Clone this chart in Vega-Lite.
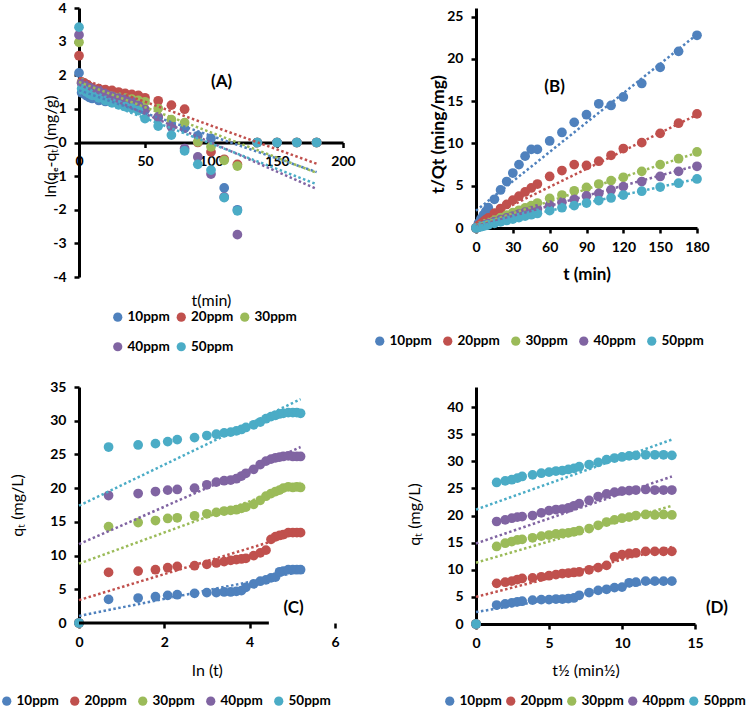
{
"$schema":"https://vega.github.io/schema/vega-lite/v6.json",
"padding":{"top":1,"left":0,"right":0,"bottom":0},
"autosize":{"type":"pad"},
"background":"white",
"columns":2,
"bounds":"flush",
"spacing":{"row":110,"column":133},
"resolve":{"scale":{"x":"independent","y":"independent","color":"independent","stroke":"independent"},"legend":{"color":"independent"}},
"config":{
 "font":"Lato",
 "view":{"stroke":null},
 "axis":{"domainColor":"#000","domainWidth":3,"tickColor":"#000","tickWidth":2.5,"tickSize":5,"grid":false,"labelColor":"#000","labelFont":"Lato","labelFontSize":14,"labelFontWeight":"bold","labelFlush":false,"labelOverlap":false,"titleColor":"#000","titleFont":"Lato","titleFontSize":16,"titleFontWeight":"normal"},
 "axisX":{"labelPadding":7},
 "axisY":{"labelPadding":8},
 "legend":{"orient":"none","direction":"horizontal","symbolType":"circle","symbolSize":85,"symbolStrokeWidth":0,"labelFont":"Lato","labelFontSize":13.5,"labelFontWeight":"bold","labelColor":"#000","labelOffset":3,"columnPadding":8,"rowPadding":15,"padding":0}
},
"datasets":{
"A":[
{"s":"10ppm","t":0,"v":2.07},{"s":"10ppm","t":2,"v":1.48},{"s":"10ppm","t":4,"v":1.44},{"s":"10ppm","t":6,"v":1.39},{"s":"10ppm","t":8,"v":1.34},{"s":"10ppm","t":10,"v":1.31},{"s":"10ppm","t":15,"v":1.25},{"s":"10ppm","t":20,"v":1.22},{"s":"10ppm","t":25,"v":1.2},{"s":"10ppm","t":30,"v":1.19},{"s":"10ppm","t":35,"v":1.17},{"s":"10ppm","t":40,"v":1.16},{"s":"10ppm","t":45,"v":1.13},{"s":"10ppm","t":50,"v":0.96},{"s":"10ppm","t":60,"v":0.74},{"s":"10ppm","t":70,"v":0.5},{"s":"10ppm","t":80,"v":0.42},{"s":"10ppm","t":90,"v":0.2},{"s":"10ppm","t":100,"v":0.12},{"s":"10ppm","t":110,"v":-1.35},{"s":"10ppm","t":120,"v":-2.0},{"s":"10ppm","t":135,"v":0},{"s":"10ppm","t":150,"v":0},{"s":"10ppm","t":165,"v":0},{"s":"10ppm","t":180,"v":0},
{"s":"20ppm","t":0,"v":2.58},{"s":"20ppm","t":2,"v":1.8},{"s":"20ppm","t":4,"v":1.77},{"s":"20ppm","t":6,"v":1.72},{"s":"20ppm","t":8,"v":1.66},{"s":"20ppm","t":10,"v":1.62},{"s":"20ppm","t":15,"v":1.6},{"s":"20ppm","t":20,"v":1.57},{"s":"20ppm","t":25,"v":1.55},{"s":"20ppm","t":30,"v":1.5},{"s":"20ppm","t":35,"v":1.46},{"s":"20ppm","t":40,"v":1.43},{"s":"20ppm","t":45,"v":1.4},{"s":"20ppm","t":50,"v":1.33},{"s":"20ppm","t":60,"v":1.24},{"s":"20ppm","t":70,"v":1.11},{"s":"20ppm","t":80,"v":0.99},{"s":"20ppm","t":90,"v":0.0},{"s":"20ppm","t":100,"v":-0.28},{"s":"20ppm","t":110,"v":-0.5},{"s":"20ppm","t":120,"v":-0.65},{"s":"20ppm","t":135,"v":0},{"s":"20ppm","t":150,"v":0},{"s":"20ppm","t":165,"v":0},{"s":"20ppm","t":180,"v":0},
{"s":"30ppm","t":0,"v":2.98},{"s":"30ppm","t":2,"v":1.77},{"s":"30ppm","t":4,"v":1.68},{"s":"30ppm","t":6,"v":1.62},{"s":"30ppm","t":8,"v":1.56},{"s":"30ppm","t":10,"v":1.53},{"s":"30ppm","t":15,"v":1.47},{"s":"30ppm","t":20,"v":1.42},{"s":"30ppm","t":25,"v":1.38},{"s":"30ppm","t":30,"v":1.35},{"s":"30ppm","t":35,"v":1.32},{"s":"30ppm","t":40,"v":1.29},{"s":"30ppm","t":45,"v":1.25},{"s":"30ppm","t":50,"v":1.21},{"s":"30ppm","t":60,"v":1.01},{"s":"30ppm","t":70,"v":0.68},{"s":"30ppm","t":80,"v":0.59},{"s":"30ppm","t":90,"v":0.02},{"s":"30ppm","t":100,"v":-0.13},{"s":"30ppm","t":110,"v":-0.53},{"s":"30ppm","t":120,"v":-0.7},{"s":"30ppm","t":135,"v":0},{"s":"30ppm","t":150,"v":0},{"s":"30ppm","t":165,"v":0},{"s":"30ppm","t":180,"v":0},
{"s":"40ppm","t":0,"v":3.2},{"s":"40ppm","t":2,"v":1.76},{"s":"40ppm","t":4,"v":1.72},{"s":"40ppm","t":6,"v":1.67},{"s":"40ppm","t":8,"v":1.63},{"s":"40ppm","t":10,"v":1.6},{"s":"40ppm","t":15,"v":1.55},{"s":"40ppm","t":20,"v":1.46},{"s":"40ppm","t":25,"v":1.38},{"s":"40ppm","t":30,"v":1.32},{"s":"40ppm","t":35,"v":1.28},{"s":"40ppm","t":40,"v":1.22},{"s":"40ppm","t":45,"v":1.1},{"s":"40ppm","t":50,"v":0.98},{"s":"40ppm","t":60,"v":0.76},{"s":"40ppm","t":70,"v":0.47},{"s":"40ppm","t":80,"v":-0.18},{"s":"40ppm","t":90,"v":-0.43},{"s":"40ppm","t":100,"v":-0.94},{"s":"40ppm","t":110,"v":-1.62},{"s":"40ppm","t":120,"v":-2.74},{"s":"40ppm","t":135,"v":0},{"s":"40ppm","t":150,"v":0},{"s":"40ppm","t":165,"v":0},{"s":"40ppm","t":180,"v":0},
{"s":"50ppm","t":0,"v":3.43},{"s":"50ppm","t":2,"v":1.6},{"s":"50ppm","t":4,"v":1.55},{"s":"50ppm","t":6,"v":1.5},{"s":"50ppm","t":8,"v":1.45},{"s":"50ppm","t":10,"v":1.4},{"s":"50ppm","t":15,"v":1.33},{"s":"50ppm","t":20,"v":1.25},{"s":"50ppm","t":25,"v":1.18},{"s":"50ppm","t":30,"v":1.12},{"s":"50ppm","t":35,"v":1.07},{"s":"50ppm","t":40,"v":1.02},{"s":"50ppm","t":45,"v":0.95},{"s":"50ppm","t":50,"v":0.71},{"s":"50ppm","t":60,"v":0.49},{"s":"50ppm","t":70,"v":0.22},{"s":"50ppm","t":80,"v":-0.25},{"s":"50ppm","t":90,"v":-0.65},{"s":"50ppm","t":100,"v":-0.82},{"s":"50ppm","t":110,"v":-1.64},{"s":"50ppm","t":120,"v":-2.03},{"s":"50ppm","t":135,"v":0},{"s":"50ppm","t":150,"v":0},{"s":"50ppm","t":165,"v":0},{"s":"50ppm","t":180,"v":0}
],
"trA":[
{"s":"10ppm","t":0,"v":1.55},{"s":"10ppm","t":180,"v":-0.88},
{"s":"20ppm","t":0,"v":1.92},{"s":"20ppm","t":180,"v":-0.63},
{"s":"30ppm","t":0,"v":1.8},{"s":"30ppm","t":180,"v":-0.9},
{"s":"40ppm","t":0,"v":1.72},{"s":"40ppm","t":180,"v":-1.38},
{"s":"50ppm","t":0,"v":1.48},{"s":"50ppm","t":180,"v":-1.24}
],
"B":[
{"s":"10ppm","t":0,"v":0},{"s":"10ppm","t":2,"v":0.57},{"s":"10ppm","t":4,"v":1.08},{"s":"10ppm","t":6,"v":1.54},{"s":"10ppm","t":8,"v":1.95},{"s":"10ppm","t":10,"v":2.4},{"s":"10ppm","t":15,"v":3.4},{"s":"10ppm","t":20,"v":4.5},{"s":"10ppm","t":25,"v":5.5},{"s":"10ppm","t":30,"v":6.5},{"s":"10ppm","t":35,"v":7.5},{"s":"10ppm","t":40,"v":8.5},{"s":"10ppm","t":45,"v":9.3},{"s":"10ppm","t":50,"v":9.3},{"s":"10ppm","t":60,"v":10.3},{"s":"10ppm","t":70,"v":11.3},{"s":"10ppm","t":80,"v":12.5},{"s":"10ppm","t":90,"v":13.4},{"s":"10ppm","t":100,"v":14.7},{"s":"10ppm","t":110,"v":14.5},{"s":"10ppm","t":120,"v":15.5},{"s":"10ppm","t":135,"v":17.1},{"s":"10ppm","t":150,"v":19.0},{"s":"10ppm","t":165,"v":20.9},{"s":"10ppm","t":180,"v":22.8},
{"s":"20ppm","t":0,"v":0},{"s":"20ppm","t":2,"v":0.27},{"s":"20ppm","t":4,"v":0.52},{"s":"20ppm","t":6,"v":0.76},{"s":"20ppm","t":8,"v":0.98},{"s":"20ppm","t":10,"v":1.19},{"s":"20ppm","t":15,"v":1.76},{"s":"20ppm","t":20,"v":2.3},{"s":"20ppm","t":25,"v":2.8},{"s":"20ppm","t":30,"v":3.3},{"s":"20ppm","t":35,"v":3.76},{"s":"20ppm","t":40,"v":4.26},{"s":"20ppm","t":45,"v":4.74},{"s":"20ppm","t":50,"v":5.2},{"s":"20ppm","t":60,"v":6.1},{"s":"20ppm","t":70,"v":6.8},{"s":"20ppm","t":80,"v":7.5},{"s":"20ppm","t":90,"v":7.4},{"s":"20ppm","t":100,"v":7.9},{"s":"20ppm","t":110,"v":8.6},{"s":"20ppm","t":120,"v":9.4},{"s":"20ppm","t":135,"v":10.1},{"s":"20ppm","t":150,"v":11.2},{"s":"20ppm","t":165,"v":12.4},{"s":"20ppm","t":180,"v":13.5},
{"s":"30ppm","t":0,"v":0},{"s":"30ppm","t":2,"v":0.14},{"s":"30ppm","t":4,"v":0.27},{"s":"30ppm","t":6,"v":0.39},{"s":"30ppm","t":8,"v":0.52},{"s":"30ppm","t":10,"v":0.64},{"s":"30ppm","t":15,"v":0.94},{"s":"30ppm","t":20,"v":1.23},{"s":"30ppm","t":25,"v":1.52},{"s":"30ppm","t":30,"v":1.81},{"s":"30ppm","t":35,"v":2.1},{"s":"30ppm","t":40,"v":2.38},{"s":"30ppm","t":45,"v":2.65},{"s":"30ppm","t":50,"v":2.95},{"s":"30ppm","t":60,"v":3.5},{"s":"30ppm","t":70,"v":3.9},{"s":"30ppm","t":80,"v":4.4},{"s":"30ppm","t":90,"v":4.8},{"s":"30ppm","t":100,"v":5.2},{"s":"30ppm","t":110,"v":5.6},{"s":"30ppm","t":120,"v":6.0},{"s":"30ppm","t":135,"v":6.7},{"s":"30ppm","t":150,"v":7.5},{"s":"30ppm","t":165,"v":8.2},{"s":"30ppm","t":180,"v":9.0},
{"s":"40ppm","t":0,"v":0},{"s":"40ppm","t":2,"v":0.11},{"s":"40ppm","t":4,"v":0.21},{"s":"40ppm","t":6,"v":0.31},{"s":"40ppm","t":8,"v":0.41},{"s":"40ppm","t":10,"v":0.51},{"s":"40ppm","t":15,"v":0.75},{"s":"40ppm","t":20,"v":0.98},{"s":"40ppm","t":25,"v":1.2},{"s":"40ppm","t":30,"v":1.42},{"s":"40ppm","t":35,"v":1.65},{"s":"40ppm","t":40,"v":1.87},{"s":"40ppm","t":45,"v":2.06},{"s":"40ppm","t":50,"v":2.25},{"s":"40ppm","t":60,"v":2.7},{"s":"40ppm","t":70,"v":3.05},{"s":"40ppm","t":80,"v":3.4},{"s":"40ppm","t":90,"v":3.8},{"s":"40ppm","t":100,"v":4.1},{"s":"40ppm","t":110,"v":4.5},{"s":"40ppm","t":120,"v":4.9},{"s":"40ppm","t":135,"v":5.5},{"s":"40ppm","t":150,"v":6.1},{"s":"40ppm","t":165,"v":6.7},{"s":"40ppm","t":180,"v":7.3},
{"s":"50ppm","t":0,"v":0},{"s":"50ppm","t":2,"v":0.08},{"s":"50ppm","t":4,"v":0.15},{"s":"50ppm","t":6,"v":0.23},{"s":"50ppm","t":8,"v":0.3},{"s":"50ppm","t":10,"v":0.37},{"s":"50ppm","t":15,"v":0.55},{"s":"50ppm","t":20,"v":0.72},{"s":"50ppm","t":25,"v":0.89},{"s":"50ppm","t":30,"v":1.06},{"s":"50ppm","t":35,"v":1.24},{"s":"50ppm","t":40,"v":1.4},{"s":"50ppm","t":45,"v":1.57},{"s":"50ppm","t":50,"v":1.72},{"s":"50ppm","t":60,"v":2.05},{"s":"50ppm","t":70,"v":2.4},{"s":"50ppm","t":80,"v":2.65},{"s":"50ppm","t":90,"v":2.95},{"s":"50ppm","t":100,"v":3.25},{"s":"50ppm","t":110,"v":3.55},{"s":"50ppm","t":120,"v":3.9},{"s":"50ppm","t":135,"v":4.35},{"s":"50ppm","t":150,"v":4.85},{"s":"50ppm","t":165,"v":5.3},{"s":"50ppm","t":180,"v":5.8}
],
"trB":[
{"s":"10ppm","t":0,"v":2.05},{"s":"10ppm","t":180,"v":22.9},
{"s":"20ppm","t":0,"v":0.6},{"s":"20ppm","t":180,"v":13.4},
{"s":"30ppm","t":0,"v":0.3},{"s":"30ppm","t":180,"v":8.9},
{"s":"40ppm","t":0,"v":0.24},{"s":"40ppm","t":180,"v":7.4},
{"s":"50ppm","t":0,"v":0.16},{"s":"50ppm","t":180,"v":5.8}
],
"CD":[
{"s":"10ppm","t":0,"l":0,"r":0,"q":0},{"s":"10ppm","t":2,"l":0.693,"r":1.414,"q":3.5},{"s":"10ppm","t":4,"l":1.386,"r":2,"q":3.7},{"s":"10ppm","t":6,"l":1.792,"r":2.449,"q":3.9},{"s":"10ppm","t":8,"l":2.079,"r":2.828,"q":4.1},{"s":"10ppm","t":10,"l":2.303,"r":3.162,"q":4.2},{"s":"10ppm","t":15,"l":2.708,"r":3.873,"q":4.4},{"s":"10ppm","t":20,"l":2.996,"r":4.472,"q":4.5},{"s":"10ppm","t":25,"l":3.219,"r":5,"q":4.5},{"s":"10ppm","t":30,"l":3.401,"r":5.477,"q":4.6},{"s":"10ppm","t":35,"l":3.555,"r":5.916,"q":4.6},{"s":"10ppm","t":40,"l":3.689,"r":6.325,"q":4.7},{"s":"10ppm","t":45,"l":3.807,"r":6.708,"q":4.8},{"s":"10ppm","t":50,"l":3.912,"r":7.071,"q":5.3},{"s":"10ppm","t":60,"l":4.094,"r":7.746,"q":5.8},{"s":"10ppm","t":70,"l":4.248,"r":8.367,"q":6.2},{"s":"10ppm","t":80,"l":4.382,"r":8.944,"q":6.4},{"s":"10ppm","t":90,"l":4.5,"r":9.487,"q":6.7},{"s":"10ppm","t":100,"l":4.605,"r":10,"q":6.8},{"s":"10ppm","t":110,"l":4.7,"r":10.488,"q":7.6},{"s":"10ppm","t":120,"l":4.787,"r":10.954,"q":7.7},{"s":"10ppm","t":135,"l":4.905,"r":11.619,"q":7.9},{"s":"10ppm","t":150,"l":5.011,"r":12.247,"q":7.9},{"s":"10ppm","t":165,"l":5.106,"r":12.845,"q":7.9},{"s":"10ppm","t":180,"l":5.193,"r":13.416,"q":7.9},
{"s":"20ppm","t":0,"l":0,"r":0,"q":0},{"s":"20ppm","t":2,"l":0.693,"r":1.414,"q":7.5},{"s":"20ppm","t":4,"l":1.386,"r":2,"q":7.7},{"s":"20ppm","t":6,"l":1.792,"r":2.449,"q":7.9},{"s":"20ppm","t":8,"l":2.079,"r":2.828,"q":8.2},{"s":"20ppm","t":10,"l":2.303,"r":3.162,"q":8.4},{"s":"20ppm","t":15,"l":2.708,"r":3.873,"q":8.5},{"s":"20ppm","t":20,"l":2.996,"r":4.472,"q":8.7},{"s":"20ppm","t":25,"l":3.219,"r":5,"q":8.9},{"s":"20ppm","t":30,"l":3.401,"r":5.477,"q":9.1},{"s":"20ppm","t":35,"l":3.555,"r":5.916,"q":9.3},{"s":"20ppm","t":40,"l":3.689,"r":6.325,"q":9.4},{"s":"20ppm","t":45,"l":3.807,"r":6.708,"q":9.5},{"s":"20ppm","t":50,"l":3.912,"r":7.071,"q":9.6},{"s":"20ppm","t":60,"l":4.094,"r":7.746,"q":10.0},{"s":"20ppm","t":70,"l":4.248,"r":8.367,"q":10.4},{"s":"20ppm","t":80,"l":4.382,"r":8.944,"q":10.8},{"s":"20ppm","t":90,"l":4.5,"r":9.487,"q":12.4},{"s":"20ppm","t":100,"l":4.605,"r":10,"q":12.8},{"s":"20ppm","t":110,"l":4.7,"r":10.488,"q":13.0},{"s":"20ppm","t":120,"l":4.787,"r":10.954,"q":13.1},{"s":"20ppm","t":135,"l":4.905,"r":11.619,"q":13.4},{"s":"20ppm","t":150,"l":5.011,"r":12.247,"q":13.4},{"s":"20ppm","t":165,"l":5.106,"r":12.845,"q":13.4},{"s":"20ppm","t":180,"l":5.193,"r":13.416,"q":13.4},
{"s":"30ppm","t":0,"l":0,"r":0,"q":0},{"s":"30ppm","t":2,"l":0.693,"r":1.414,"q":14.3},{"s":"30ppm","t":4,"l":1.386,"r":2,"q":14.9},{"s":"30ppm","t":6,"l":1.792,"r":2.449,"q":15.2},{"s":"30ppm","t":8,"l":2.079,"r":2.828,"q":15.5},{"s":"30ppm","t":10,"l":2.303,"r":3.162,"q":15.6},{"s":"30ppm","t":15,"l":2.708,"r":3.873,"q":15.9},{"s":"30ppm","t":20,"l":2.996,"r":4.472,"q":16.2},{"s":"30ppm","t":25,"l":3.219,"r":5,"q":16.4},{"s":"30ppm","t":30,"l":3.401,"r":5.477,"q":16.6},{"s":"30ppm","t":35,"l":3.555,"r":5.916,"q":16.7},{"s":"30ppm","t":40,"l":3.689,"r":6.325,"q":16.8},{"s":"30ppm","t":45,"l":3.807,"r":6.708,"q":17.0},{"s":"30ppm","t":50,"l":3.912,"r":7.071,"q":17.2},{"s":"30ppm","t":60,"l":4.094,"r":7.746,"q":17.6},{"s":"30ppm","t":70,"l":4.248,"r":8.367,"q":18.2},{"s":"30ppm","t":80,"l":4.382,"r":8.944,"q":18.8},{"s":"30ppm","t":90,"l":4.5,"r":9.487,"q":19.2},{"s":"30ppm","t":100,"l":4.605,"r":10,"q":19.5},{"s":"30ppm","t":110,"l":4.7,"r":10.488,"q":19.7},{"s":"30ppm","t":120,"l":4.787,"r":10.954,"q":20.0},{"s":"30ppm","t":135,"l":4.905,"r":11.619,"q":20.2},{"s":"30ppm","t":150,"l":5.011,"r":12.247,"q":20.1},{"s":"30ppm","t":165,"l":5.106,"r":12.845,"q":20.2},{"s":"30ppm","t":180,"l":5.193,"r":13.416,"q":20.1},
{"s":"40ppm","t":0,"l":0,"r":0,"q":0},{"s":"40ppm","t":2,"l":0.693,"r":1.414,"q":18.9},{"s":"40ppm","t":4,"l":1.386,"r":2,"q":19.2},{"s":"40ppm","t":6,"l":1.792,"r":2.449,"q":19.5},{"s":"40ppm","t":8,"l":2.079,"r":2.828,"q":19.7},{"s":"40ppm","t":10,"l":2.303,"r":3.162,"q":19.8},{"s":"40ppm","t":15,"l":2.708,"r":3.873,"q":20.0},{"s":"40ppm","t":20,"l":2.996,"r":4.472,"q":20.5},{"s":"40ppm","t":25,"l":3.219,"r":5,"q":20.9},{"s":"40ppm","t":30,"l":3.401,"r":5.477,"q":21.1},{"s":"40ppm","t":35,"l":3.555,"r":5.916,"q":21.2},{"s":"40ppm","t":40,"l":3.689,"r":6.325,"q":21.4},{"s":"40ppm","t":45,"l":3.807,"r":6.708,"q":21.8},{"s":"40ppm","t":50,"l":3.912,"r":7.071,"q":22.2},{"s":"40ppm","t":60,"l":4.094,"r":7.746,"q":22.8},{"s":"40ppm","t":70,"l":4.248,"r":8.367,"q":23.5},{"s":"40ppm","t":80,"l":4.382,"r":8.944,"q":24.0},{"s":"40ppm","t":90,"l":4.5,"r":9.487,"q":24.3},{"s":"40ppm","t":100,"l":4.605,"r":10,"q":24.5},{"s":"40ppm","t":110,"l":4.7,"r":10.488,"q":24.6},{"s":"40ppm","t":120,"l":4.787,"r":10.954,"q":24.7},{"s":"40ppm","t":135,"l":4.905,"r":11.619,"q":24.8},{"s":"40ppm","t":150,"l":5.011,"r":12.247,"q":24.7},{"s":"40ppm","t":165,"l":5.106,"r":12.845,"q":24.7},{"s":"40ppm","t":180,"l":5.193,"r":13.416,"q":24.7},
{"s":"50ppm","t":0,"l":0,"r":0,"q":0},{"s":"50ppm","t":2,"l":0.693,"r":1.414,"q":26.1},{"s":"50ppm","t":4,"l":1.386,"r":2,"q":26.4},{"s":"50ppm","t":6,"l":1.792,"r":2.449,"q":26.6},{"s":"50ppm","t":8,"l":2.079,"r":2.828,"q":26.9},{"s":"50ppm","t":10,"l":2.303,"r":3.162,"q":27.2},{"s":"50ppm","t":15,"l":2.708,"r":3.873,"q":27.5},{"s":"50ppm","t":20,"l":2.996,"r":4.472,"q":27.8},{"s":"50ppm","t":25,"l":3.219,"r":5,"q":28.0},{"s":"50ppm","t":30,"l":3.401,"r":5.477,"q":28.2},{"s":"50ppm","t":35,"l":3.555,"r":5.916,"q":28.3},{"s":"50ppm","t":40,"l":3.689,"r":6.325,"q":28.5},{"s":"50ppm","t":45,"l":3.807,"r":6.708,"q":28.7},{"s":"50ppm","t":50,"l":3.912,"r":7.071,"q":29.0},{"s":"50ppm","t":60,"l":4.094,"r":7.746,"q":29.4},{"s":"50ppm","t":70,"l":4.248,"r":8.367,"q":29.8},{"s":"50ppm","t":80,"l":4.382,"r":8.944,"q":30.3},{"s":"50ppm","t":90,"l":4.5,"r":9.487,"q":30.6},{"s":"50ppm","t":100,"l":4.605,"r":10,"q":30.8},{"s":"50ppm","t":110,"l":4.7,"r":10.488,"q":31.0},{"s":"50ppm","t":120,"l":4.787,"r":10.954,"q":31.1},{"s":"50ppm","t":135,"l":4.905,"r":11.619,"q":31.2},{"s":"50ppm","t":150,"l":5.011,"r":12.247,"q":31.2},{"s":"50ppm","t":165,"l":5.106,"r":12.845,"q":31.2},{"s":"50ppm","t":180,"l":5.193,"r":13.416,"q":31.1}
],
"trC":[
{"s":"10ppm","l":0,"q":1.05},{"s":"10ppm","l":5.193,"q":7.6},
{"s":"20ppm","l":0,"q":3.4},{"s":"20ppm","l":5.193,"q":13.4},
{"s":"30ppm","l":0,"q":8.8},{"s":"30ppm","l":5.193,"q":20.8},
{"s":"40ppm","l":0,"q":11.7},{"s":"40ppm","l":5.193,"q":26.1},
{"s":"50ppm","l":0,"q":17.4},{"s":"50ppm","l":5.193,"q":33.2}
],
"trD":[
{"s":"10ppm","r":0,"q":2.2},{"s":"10ppm","r":13.416,"q":8.3},
{"s":"20ppm","r":0,"q":5.0},{"s":"20ppm","r":13.416,"q":14.2},
{"s":"30ppm","r":0,"q":11.3},{"s":"30ppm","r":13.416,"q":21.8},
{"s":"40ppm","r":0,"q":14.85},{"s":"40ppm","r":13.416,"q":27.2},
{"s":"50ppm","r":0,"q":21.1},{"s":"50ppm","r":13.416,"q":34.0}
]
},
"concat":[
{"width":264,"height":269,"layer":[
 {"data":{"name":"A"},"mark":{"type":"point","shape":"circle","filled":true,"size":95,"opacity":1},
  "encoding":{
   "x":{"field":"t","type":"quantitative","scale":{"domain":[0,200],"nice":false},"axis":{"values":[0,50,100,150,200],"tickCount":30,"format":"d","labelOverlap":false,"title":"t(min)","offset":-134.5,"titleY":158,"titleBaseline":"middle"}},
   "y":{"field":"v","type":"quantitative","scale":{"domain":[-4,4],"nice":false},"axis":{"values":[-4,-3,-2,-1,0,1,2,3,4],"tickCount":30,"labelOverlap":false,"title":"ln(qₑ-qₜ) (mg/g)","labelExpr":"datum.value < 0 ? '-' + abs(datum.value) : '' + datum.value","titleX":-29,"titleY":138,"titleBaseline":"middle"}},
   "color":{"field":"s","type":"nominal","scale":{"domain":["10ppm","20ppm","30ppm","40ppm","50ppm"],"range":["#4F81BD","#C0504D","#9BBB59","#8064A2","#4BACC6"]},"legend":{"title":null,"orient":"none","legendX":32,"legendY":302,"columns":3,"columnPadding":4.5}}}},
 {"data":{"name":"trA"},"mark":{"type":"line","strokeDash":[2.5,2.5],"strokeWidth":2.5},
  "encoding":{"x":{"field":"t","type":"quantitative"},"y":{"field":"v","type":"quantitative"},
   "stroke":{"field":"s","type":"nominal","scale":{"domain":["10ppm","20ppm","30ppm","40ppm","50ppm"],"range":["#4F81BD","#C0504D","#9BBB59","#8064A2","#4BACC6"]},"legend":null}}},
 {"data":{"values":[{}]},"mark":{"type":"text","text":"(A)","font":"Lato","fontSize":17,"fontWeight":"bold","color":"#000","align":"center","baseline":"middle"},
  "encoding":{"x":{"datum":108},"y":{"datum":1.8}}}
]},
{"width":221,"height":220,"layer":[
 {"data":{"name":"B"},"mark":{"type":"point","shape":"circle","filled":true,"size":95,"opacity":1},
  "encoding":{
   "x":{"field":"t","type":"quantitative","scale":{"domain":[0,180],"nice":false},"axis":{"values":[0,30,60,90,120,150,180],"tickCount":30,"format":"d","labelOverlap":false,"title":"t (min)","titleFontSize":17,"titleFontWeight":"bold","titleY":46,"titleBaseline":"middle"}},
   "y":{"field":"v","type":"quantitative","scale":{"domain":[0,26.03],"nice":false},"axis":{"values":[0,5,10,15,20,25],"tickCount":30,"format":"d","labelOverlap":false,"title":"t/Qt (ming/mg)","titleFontSize":17.5,"titleFontWeight":"bold","titleX":-38,"titleY":126,"titleBaseline":"middle"}},
   "color":{"field":"s","type":"nominal","scale":{"domain":["10ppm","20ppm","30ppm","40ppm","50ppm"],"range":["#4F81BD","#C0504D","#9BBB59","#8064A2","#4BACC6"]},"legend":{"title":null,"orient":"none","legendX":-103,"legendY":326,"columns":5,"columnPadding":9}}}},
 {"data":{"name":"trB"},"mark":{"type":"line","strokeDash":[2.5,2.5],"strokeWidth":2.5},
  "encoding":{"x":{"field":"t","type":"quantitative"},"y":{"field":"v","type":"quantitative"},
   "stroke":{"field":"s","type":"nominal","scale":{"domain":["10ppm","20ppm","30ppm","40ppm","50ppm"],"range":["#4F81BD","#C0504D","#9BBB59","#8064A2","#4BACC6"]},"legend":null}}},
 {"data":{"values":[{}]},"mark":{"type":"text","text":"(B)","font":"Lato","fontSize":17,"fontWeight":"bold","color":"#000","align":"center","baseline":"middle"},
  "encoding":{"x":{"datum":64},"y":{"datum":16.7}}}
]},
{"width":256,"height":236,"layer":[
 {"data":{"name":"CD"},"mark":{"type":"point","shape":"circle","filled":true,"size":95,"opacity":1},
  "encoding":{
   "x":{"field":"l","type":"quantitative","scale":{"domain":[0,6],"nice":false},"axis":{"values":[0,2,4,6],"tickCount":30,"format":"d","labelOverlap":false,"domain":false,"title":"ln (t)","titleY":47,"titleBaseline":"middle"}},
   "y":{"field":"q","type":"quantitative","scale":{"domain":[0,35],"nice":false},"axis":{"values":[0,5,10,15,20,25,30,35],"tickCount":30,"format":"d","labelOverlap":false,"title":"qₜ (mg/L)","titleX":-61.5,"titleY":118,"titleBaseline":"middle"}},
   "color":{"field":"s","type":"nominal","scale":{"domain":["10ppm","20ppm","30ppm","40ppm","50ppm"],"range":["#4F81BD","#C0504D","#9BBB59","#8064A2","#4BACC6"]},"legend":{"title":null,"orient":"none","legendX":-79,"legendY":307,"columns":5,"columnPadding":9}}}},
 {"data":{"name":"trC"},"mark":{"type":"line","strokeDash":[2.5,2.5],"strokeWidth":2.5},
  "encoding":{"x":{"field":"l","type":"quantitative"},"y":{"field":"q","type":"quantitative"},
   "stroke":{"field":"s","type":"nominal","scale":{"domain":["10ppm","20ppm","30ppm","40ppm","50ppm"],"range":["#4F81BD","#C0504D","#9BBB59","#8064A2","#4BACC6"]},"legend":null}}},
 {"data":{"values":[{}]},"mark":{"type":"rule","color":"#000","strokeWidth":3},
  "encoding":{"x":{"datum":0},"x2":{"datum":4.45},"y":{"datum":0}}},
 {"data":{"values":[{}]},"mark":{"type":"text","text":"(C)","font":"Lato","fontSize":17,"fontWeight":"bold","color":"#000","align":"center","baseline":"middle"},
  "encoding":{"x":{"datum":5.03},"y":{"datum":2.2}}}
]},
{"width":219,"height":237,"layer":[
 {"data":{"name":"CD"},"mark":{"type":"point","shape":"circle","filled":true,"size":95,"opacity":1},
  "encoding":{
   "x":{"field":"r","type":"quantitative","scale":{"domain":[0,15],"nice":false},"axis":{"values":[0,5,10,15],"tickCount":30,"format":"d","labelOverlap":false,"title":"t½ (min½)","titleY":46,"titleBaseline":"middle"}},
   "y":{"field":"q","type":"quantitative","scale":{"domain":[0,43.7],"nice":false},"axis":{"values":[0,5,10,15,20,25,30,35,40],"tickCount":30,"format":"d","labelOverlap":false,"title":"qₜ (mg/L)","titleX":-61.5,"titleY":127,"titleBaseline":"middle"}},
   "color":{"field":"s","type":"nominal","scale":{"domain":["10ppm","20ppm","30ppm","40ppm","50ppm"],"range":["#4F81BD","#C0504D","#9BBB59","#8064A2","#4BACC6"]},"legend":{"title":null,"orient":"none","legendX":-33,"legendY":307,"columns":5,"columnPadding":2}}}},
 {"data":{"name":"trD"},"mark":{"type":"line","strokeDash":[2.5,2.5],"strokeWidth":2.5},
  "encoding":{"x":{"field":"r","type":"quantitative"},"y":{"field":"q","type":"quantitative"},
   "stroke":{"field":"s","type":"nominal","scale":{"domain":["10ppm","20ppm","30ppm","40ppm","50ppm"],"range":["#4F81BD","#C0504D","#9BBB59","#8064A2","#4BACC6"]},"legend":null}}},
 {"data":{"values":[{}]},"mark":{"type":"text","text":"(D)","font":"Lato","fontSize":17,"fontWeight":"bold","color":"#000","align":"center","baseline":"middle"},
  "encoding":{"x":{"datum":16.5},"y":{"datum":2.86}}}
]}
]
}
